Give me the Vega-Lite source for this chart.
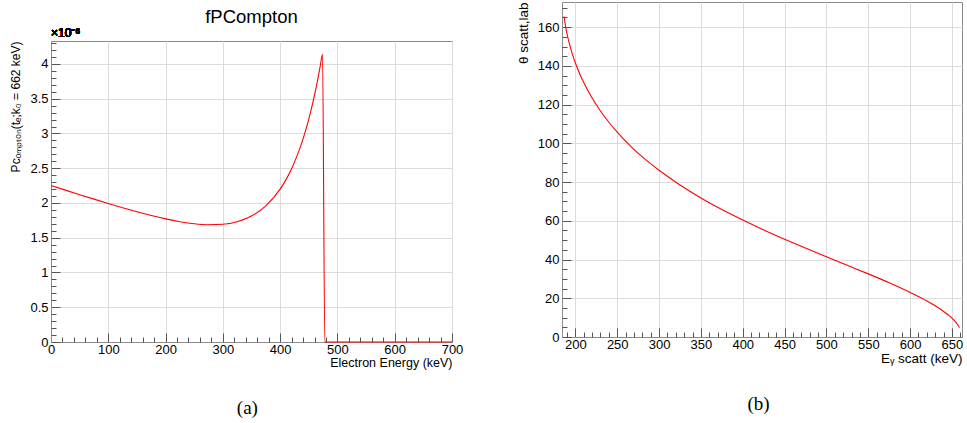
{
  "$schema": "https://vega.github.io/schema/vega-lite/v6.json",
  "padding": {"left": 9, "top": 1, "right": 0, "bottom": 0},
  "background": "white",
  "spacing": 51,
  "config": {
    "font": "Liberation Sans",
    "view": {"stroke": "#8a8a8a", "strokeWidth": 1},
    "axis": {
      "labelFont": "Liberation Sans", "labelFontSize": 13, "labelColor": "#000",
      "titleFont": "Liberation Sans", "titleFontWeight": "normal", "titleFontSize": 13, "titleColor": "#000",
      "gridColor": "#dcdcdc", "gridWidth": 1, "domainColor": "#8a8a8a", "tickColor": "#555",
      "labelFlush": false, "labelOverlap": false, "labelBound": false
    },
    "title": {"font": "Liberation Sans", "fontWeight": "normal", "color": "#000"}
  },
  "datasets": {
    "a": [
      {"E": 0, "P": 2.25}, {"E": 25, "P": 2.1845}, {"E": 50, "P": 2.1195}, {"E": 75, "P": 2.0553},
      {"E": 100, "P": 1.9924}, {"E": 125, "P": 1.9315}, {"E": 150, "P": 1.8734}, {"E": 175, "P": 1.8193},
      {"E": 200, "P": 1.7709}, {"E": 225, "P": 1.7303}, {"E": 250, "P": 1.7007}, {"E": 275, "P": 1.6864},
      {"E": 300, "P": 1.6935}, {"E": 325, "P": 1.7311}, {"E": 350, "P": 1.8125}, {"E": 375, "P": 1.9577},
      {"E": 400, "P": 2.1986}, {"E": 410, "P": 2.3323}, {"E": 420, "P": 2.4935}, {"E": 430, "P": 2.688},
      {"E": 440, "P": 2.9232}, {"E": 450, "P": 3.2069}, {"E": 455, "P": 3.3706}, {"E": 460, "P": 3.5512},
      {"E": 465, "P": 3.7504}, {"E": 470, "P": 3.9704}, {"E": 474, "P": 4.14}, {"E": 478, "P": 0},
      {"E": 500, "P": 0}, {"E": 600, "P": 0}, {"E": 700, "P": 0}
    ],
    "b": [
      {"E": 186.5, "T": 165.5}, {"E": 188, "T": 161.1}, {"E": 190, "T": 156.6}, {"E": 193, "T": 151.1},
      {"E": 196, "T": 146.6}, {"E": 200, "T": 141.5}, {"E": 205, "T": 136.1}, {"E": 210, "T": 131.4},
      {"E": 220, "T": 123.4}, {"E": 230, "T": 116.7}, {"E": 240, "T": 110.9}, {"E": 250, "T": 105.8},
      {"E": 265, "T": 99.0}, {"E": 280, "T": 93.0}, {"E": 300, "T": 86.1}, {"E": 325, "T": 78.5},
      {"E": 350, "T": 71.8}, {"E": 375, "T": 65.8}, {"E": 400, "T": 60.4}, {"E": 425, "T": 55.3},
      {"E": 450, "T": 50.5}, {"E": 475, "T": 45.9}, {"E": 500, "T": 41.4}, {"E": 525, "T": 37.0},
      {"E": 550, "T": 32.6}, {"E": 575, "T": 28.0}, {"E": 600, "T": 23.0}, {"E": 620, "T": 18.6},
      {"E": 630, "T": 16.1}, {"E": 640, "T": 13.2}, {"E": 645, "T": 11.6}, {"E": 650, "T": 9.7},
      {"E": 655, "T": 7.4}, {"E": 658, "T": 5.6}, {"E": 659, "T": 4.8}
    ]
  },
  "hconcat": [
    {
      "title": {"text": "(a)", "orient": "bottom", "anchor": "middle", "font": "Liberation Serif", "fontSize": 19, "fontWeight": "normal", "offset": 30, "dx": 11},
      "bounds": "flush",
      "spacing": 9,
      "vconcat": [
        {
          "width": 401,
          "height": 30,
          "view": {"stroke": null},
          "data": {"values": [{"t": "fPCompton"}]},
          "mark": {"type": "text", "fontSize": 18.5, "font": "Liberation Sans", "baseline": "middle", "align": "center"},
          "encoding": {"text": {"field": "t", "type": "nominal"}}
        },
        {
          "width": 401,
          "height": 301,
          "data": {"name": "a"},
          "resolve": {"axis": {"x": "independent", "y": "independent"}},
          "layer": [
            {
              "mark": {"type": "line", "color": "#ff0000", "strokeWidth": 1.1, "interpolate": "monotone"},
              "encoding": {
                "x": {"field": "E", "type": "quantitative", "scale": {"domain": [0, 700], "nice": false},
                  "axis": {"values": [0, 100, 200, 300, 400, 500, 600, 700], "tickSize": -9, "labelPadding": 10,
                    "title": "Electron Energy (keV)", "titleFontSize": 12.5, "titleAnchor": "end", "titlePadding": 0, "grid": true}},
                "y": {"field": "P", "type": "quantitative", "scale": {"domain": [0, 4.33], "nice": false, "zero": false},
                  "axis": {"values": [0, 0.5, 1, 1.5, 2, 2.5, 3, 3.5, 4], "format": "~g", "tickSize": -9, "labelPadding": 12,
                    "title": "Pᴄₒₘₚₜₒₙ(tₑ;k₀ = 662 keV)", "titleFontSize": 12, "titleAnchor": "end", "titlePadding": 7, "grid": true}}
              }
            },
            {
              "mark": {"type": "line", "strokeOpacity": 0},
              "encoding": {
                "x": {"field": "E", "type": "quantitative",
                  "axis": {"orient": "bottom", "values": [20, 40, 60, 80, 120, 140, 160, 180, 220, 240, 260, 280, 320, 340, 360, 380, 420, 440, 460, 480, 520, 540, 560, 580, 620, 640, 660, 680],
                    "tickSize": -5, "labels": false, "domain": false, "grid": false, "title": null}},
                "y": {"field": "P", "type": "quantitative",
                  "axis": {"orient": "left", "values": [0.1, 0.2, 0.3, 0.4, 0.6, 0.7, 0.8, 0.9, 1.1, 1.2, 1.3, 1.4, 1.6, 1.7, 1.8, 1.9, 2.1, 2.2, 2.3, 2.4, 2.6, 2.7, 2.8, 2.9, 3.1, 3.2, 3.3, 3.4, 3.6, 3.7, 3.8, 3.9, 4.1, 4.2, 4.3],
                    "tickSize": -5, "labels": false, "domain": false, "grid": false, "title": null}}
              }
            },
            {
              "mark": {"type": "text", "text": "×10⁻⁶", "align": "left", "baseline": "bottom", "dy": -1, "fontSize": 12, "font": "Liberation Sans"},
              "encoding": {
                "x": {"datum": 0, "type": "quantitative", "axis": null},
                "y": {"datum": 4.33, "type": "quantitative", "axis": null}
              }
            }
          ]
        }
      ]
    },
    {
      "title": {"text": "(b)", "orient": "bottom", "anchor": "middle", "font": "Liberation Serif", "fontSize": 19, "fontWeight": "normal", "offset": 30, "dx": 19},
      "vconcat": [
        {
          "width": 400,
          "height": 335,
          "data": {"name": "b"},
          "resolve": {"axis": {"x": "independent", "y": "independent"}},
          "layer": [
            {
              "mark": {"type": "line", "color": "#ff0000", "strokeWidth": 1.1, "interpolate": "monotone"},
              "encoding": {
                "x": {"field": "E", "type": "quantitative", "scale": {"domain": [184, 662], "nice": false, "zero": false},
                  "axis": {"values": [200, 250, 300, 350, 400, 450, 500, 550, 600, 650], "tickSize": -9, "labelPadding": 10,
                    "title": "Eᵧ scatt (keV)", "titleFontSize": 13.5, "titleAnchor": "end", "titlePadding": 0, "grid": true}},
                "y": {"field": "T", "type": "quantitative", "scale": {"domain": [0, 173], "nice": false, "zero": false},
                  "axis": {"values": [0, 20, 40, 60, 80, 100, 120, 140, 160], "tickSize": -9, "labelPadding": 12,
                    "title": "θ scatt,lab", "titleFontSize": 13.5, "titleAnchor": "end", "titlePadding": 7, "grid": true}}
              }
            },
            {
              "mark": {"type": "line", "strokeOpacity": 0},
              "encoding": {
                "x": {"field": "E", "type": "quantitative",
                  "axis": {"orient": "bottom", "values": [190, 210, 220, 230, 240, 260, 270, 280, 290, 310, 320, 330, 340, 360, 370, 380, 390, 410, 420, 430, 440, 460, 470, 480, 490, 510, 520, 530, 540, 560, 570, 580, 590, 610, 620, 630, 640, 660],
                    "tickSize": -5, "labels": false, "domain": false, "grid": false, "title": null}},
                "y": {"field": "T", "type": "quantitative",
                  "axis": {"orient": "left", "values": [5, 10, 15, 25, 30, 35, 45, 50, 55, 65, 70, 75, 85, 90, 95, 105, 110, 115, 125, 130, 135, 145, 150, 155, 165, 170],
                    "tickSize": -5, "labels": false, "domain": false, "grid": false, "title": null}}
              }
            }
          ]
        }
      ]
    }
  ]
}
